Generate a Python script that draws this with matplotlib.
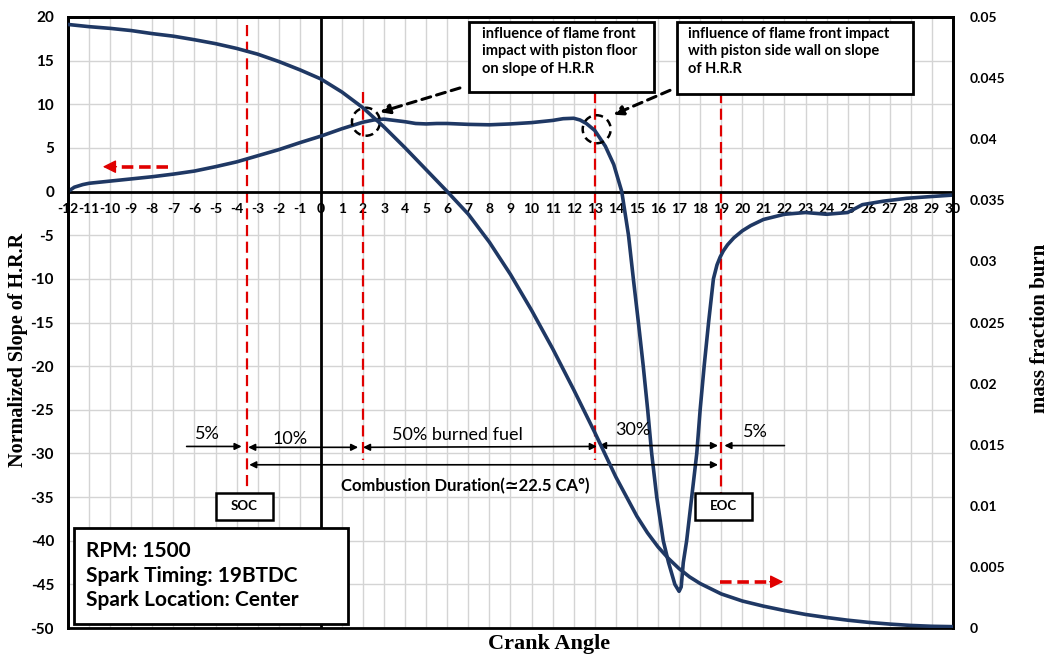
import numpy as np
import matplotlib.pyplot as plt
from matplotlib.patches import Ellipse, Rectangle
from matplotlib.ticker import FuncFormatter

plt.rcParams['font.family'] = ['Lato', 'DejaVu Sans']
plt.rcParams['axes.unicode_minus'] = False

# normalized slope of heat release rate (left axis)
crank_slope = [-12, -11.7, -11.3, -11, -10, -9, -8, -7, -6, -5, -4, -3, -2, -1, 0, 1, 2, 2.5, 3, 3.5,
               4, 4.5, 5, 5.5, 6, 7, 8, 9, 10, 11, 11.5, 12, 12.3, 12.6, 13, 13.5, 13.9, 14.28, 14.6, 14.83,
               15.07, 15.3, 15.51, 15.7, 15.94, 16.25, 16.5, 16.8, 17.0, 17.1, 17.2, 17.36, 17.6, 17.84, 18.0,
               18.19, 18.4, 18.63, 18.8, 18.95, 19.1, 19.3, 19.6, 20.0, 20.4, 21, 22, 23, 24, 25, 25.7, 26.7,
               27.8, 28.9, 30]
slope_hrr = [0, 0.5, 0.8, 0.95, 1.2, 1.45, 1.7, 2.0, 2.35, 2.85, 3.4, 4.1, 4.8, 5.6, 6.35, 7.2, 7.95, 8.2, 8.3, 8.15,
             8.0, 7.8, 7.75, 7.8, 7.8, 7.7, 7.65, 7.75, 7.9, 8.15, 8.35, 8.4, 8.2, 7.8, 7.0, 5.2, 3.1, 0, -5, -10,
             -15, -20, -25, -30, -35, -40, -42.5, -45, -45.8, -45.3, -42.5, -40, -35, -30, -25,
             -20, -15, -10, -8.4, -7.5, -6.8, -6.1, -5.3, -4.5, -3.9, -3.2, -2.6, -2.4, -2.6, -2.4, -1.5, -1.1,
             -0.77, -0.58, -0.4]

# mass fraction burn (right axis)
crank_mfb = [-12, -11, -10, -9, -8, -7, -6, -5, -4, -3, -2, -1, 0, 1, 2, 3, 4, 5, 6, 7, 8, 9, 10, 11, 12, 13,
             13.5, 14, 14.5, 15, 15.5, 16, 16.5, 17, 17.5, 18, 19, 20, 21, 22, 23, 24, 25, 26, 27, 28, 29, 30]
mfb = [0.04939, 0.04921, 0.04907, 0.04889, 0.04864, 0.04843, 0.04814, 0.04782, 0.04743, 0.04696, 0.04636,
       0.04568, 0.04493, 0.04386, 0.04257, 0.04100, 0.03929, 0.03750, 0.03571, 0.03386, 0.03157, 0.02893,
       0.02600, 0.02286, 0.01950, 0.01600, 0.01418, 0.01236, 0.01075, 0.00914, 0.00779, 0.00664, 0.00568,
       0.00486, 0.00418, 0.00364, 0.00279, 0.00221, 0.00179, 0.00143, 0.00111, 0.00086, 0.00064, 0.00046,
       0.00032, 0.00021, 0.00014, 0.00011]

# combustion phase markers (crank angle) and extent of the dashed lines
phase_x = [-3.5, 2, 13, 19]
phase_top = [19.1, 11.4, 11.4, 11.4]
phase_bottom = [-33.8, -30.8, -30.7, -34.5]

navy = '#1F3864'
red = '#E00000'
serif = 'Liberation Serif'

fig = plt.figure(figsize=(10.48, 6.55), dpi=100)
ax = fig.add_axes([68 / 1048, 27 / 655, 885 / 1048, 611 / 655])
ax2 = ax.twinx()

ax.set_xlim(-12, 30)
ax.set_ylim(-50, 20)
ax.set_xticks(range(-12, 31))
ax.set_yticks(range(-50, 21, 5))
ax.grid(color='#d4d4d4', lw=1)
ax.set_axisbelow(True)
ax.spines['bottom'].set_position(('data', 0))
for s in ax.spines.values():
    s.set_linewidth(2)
ax.axvline(0, color='black', lw=2, zorder=2)
ax.tick_params(axis='x', length=0, pad=8.5, labelsize=10)
ax.tick_params(axis='y', length=0, pad=10, labelsize=11)
plt.setp(ax.get_xticklabels() + ax.get_yticklabels(), fontweight='bold')

ax2.set_ylim(0, 0.05)
ax2.set_yticks(np.arange(0, 0.0501, 0.005))
ax2.yaxis.set_major_formatter(FuncFormatter(lambda v, p: f'{round(v, 3):g}'))
ax2.tick_params(axis='y', length=0, pad=12, labelsize=10)
plt.setp(ax2.get_yticklabels(), fontweight='bold')
for s in ax2.spines.values():
    s.set_linewidth(2)

ax.set_ylabel('Normalized Slope of H.R.R', fontfamily=serif, fontweight='bold', fontsize=14.5)
ax.yaxis.set_label_coords(-0.045, 0.455)
ax2.set_ylabel('mass fraction burn', fontfamily=serif, fontweight='bold', fontsize=15)
ax2.yaxis.set_label_coords(1.087, 0.49)
fig.text(549 / 1048, 0.032, 'Crank Angle', fontfamily=serif, fontweight='bold', fontsize=16,
         ha='center', va='top')

# curves
ax.plot(crank_slope, slope_hrr, color=navy, lw=2.6, zorder=3)
ax2.plot(crank_mfb, mfb, color=navy, lw=2.6, zorder=3)

# SOC / 10% / 50% / EOC lines
for x, y0, y1 in zip(phase_x, phase_top, phase_bottom):
    ax.plot([x, x], [y0, y1], color=red, lw=1.6, dashes=(5, 2.5), zorder=2.5)

# red direction arrows
ax.plot([-7.25, -9.6], [2.85, 2.85], color=red, lw=2.6, dashes=(3.2, 1.6))
ax.annotate('', xy=(-10.35, 2.85), xytext=(-9.7, 2.85),
            arrowprops=dict(arrowstyle='-|>', color=red, lw=1, mutation_scale=20, shrinkA=0, shrinkB=0))
ax.plot([18.95, 21.3], [-44.7, -44.7], color=red, lw=2.6, dashes=(3.2, 1.6))
ax.annotate('', xy=(21.95, -44.7), xytext=(21.3, -44.7),
            arrowprops=dict(arrowstyle='-|>', color=red, lw=1, mutation_scale=20, shrinkA=0, shrinkB=0))

# dashed circles + pointers
for cx, cy in [(2.14, 8.0), (13.09, 7.14)]:
    ax.add_patch(Ellipse((cx, cy), 2 * 14 / 21.07, 2 * 14 / 8.73, fill=False, ec='black',
                         lw=1.8, ls=(0, (3, 2)), zorder=4))
ax.annotate('', xy=(2.81, 9.1), xytext=(6.6, 11.87),
            arrowprops=dict(arrowstyle='-|>', color='black', lw=2.2, ls=(0, (3, 2)),
                            mutation_scale=14, shrinkA=0, shrinkB=0), zorder=4)
ax.annotate('', xy=(13.88, 8.8), xytext=(16.57, 11.6),
            arrowprops=dict(arrowstyle='-|>', color='black', lw=2.2, ls=(0, (3, 2)),
                            mutation_scale=14, shrinkA=0, shrinkB=0), zorder=4)

# annotation boxes
ax.add_patch(Rectangle((7.03, 11.41), 8.78, 8.02, fc='white', ec='black', lw=2, zorder=5))
ax.text(7.63, 18.85, 'influence of flame front\nimpact with piston floor\non slope of H.R.R',
        fontsize=10.5, fontweight='bold', va='top', ha='left', linespacing=1.3, zorder=6)
ax.add_patch(Rectangle((16.9, 11.18), 11.2, 8.25, fc='white', ec='black', lw=2, zorder=5))
ax.text(17.43, 18.85, 'influence of flame front impact\nwith piston side wall on slope\nof H.R.R',
        fontsize=10.5, fontweight='bold', va='top', ha='left', linespacing=1.3, zorder=6)

# phase arrows
arrow_kw = dict(color='black', lw=1.2, mutation_scale=10, shrinkA=0, shrinkB=0)
ax.annotate('', xy=(-3.76, -29.2), xytext=(-6.37, -29.2), arrowprops=dict(arrowstyle='-|>', **arrow_kw))
ax.annotate('', xy=(1.77, -29.3), xytext=(-3.45, -29.3), arrowprops=dict(arrowstyle='<|-|>', **arrow_kw))
ax.annotate('', xy=(13.1, -29.2), xytext=(2.0, -29.3), arrowprops=dict(arrowstyle='<|-|>', **arrow_kw))
ax.annotate('', xy=(18.85, -29.1), xytext=(13.2, -29.1), arrowprops=dict(arrowstyle='<|-|>', **arrow_kw))
ax.annotate('', xy=(19.15, -29.1), xytext=(22.0, -29.1), arrowprops=dict(arrowstyle='-|>', **arrow_kw))
ax.annotate('', xy=(18.85, -31.3), xytext=(-3.4, -31.3), arrowprops=dict(arrowstyle='<|-|>', **arrow_kw))

ax.text(-5.36, -27.8, '5%', fontsize=13, ha='center', va='center')
ax.text(-1.46, -28.3, '10%', fontsize=13, ha='center', va='center')
ax.text(6.46, -27.9, '50% burned fuel', fontsize=13, ha='center', va='center')
ax.text(14.8, -27.3, '30%', fontsize=13, ha='center', va='center')
ax.text(20.6, -27.6, '5%', fontsize=13, ha='center', va='center')
ax.text(6.84, -33.8, 'Combustion Duration(\u224322.5 CA\u00b0)', fontsize=12, fontweight='bold',
        ha='center', va='center')

# SOC / EOC labels
for x0, label in [(-4.98, 'SOC'), (17.76, 'EOC')]:
    ax.add_patch(Rectangle((x0, -37.6), 2.7, 3.1, fc='white', ec='black', lw=1.8, zorder=5))
    ax.text(x0 + 1.35, -36.05, label, fontsize=9.5, fontweight='bold', ha='center', va='center', zorder=6)

# operating conditions
ax.add_patch(Rectangle((-11.72, -49.5), 13.0, 11.0, fc='white', ec='black', lw=2, zorder=5))
ax.text(-11.15, -44.0, 'RPM: 1500\nSpark Timing: 19BTDC\nSpark Location: Center', fontsize=15,
        fontweight='bold', ha='left', va='center', linespacing=1.3, zorder=6)

plt.savefig('out.png', dpi=100)
